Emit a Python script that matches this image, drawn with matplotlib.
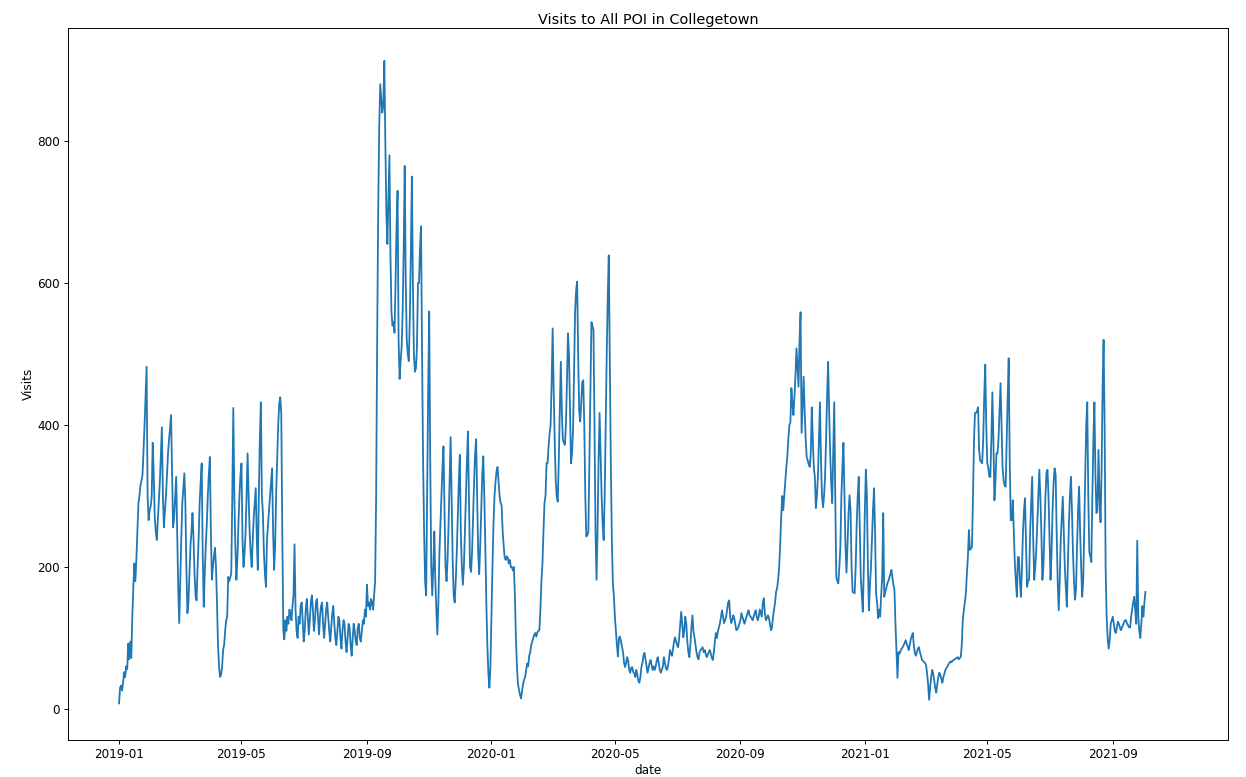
import pandas as pd
import matplotlib
matplotlib.use("Agg")
import matplotlib.pyplot as plt
import matplotlib.dates as mdates

# daily visit counts, one row per week starting 2019-01-01
visits = [
    8, 30, 33, 26, 38, 52, 45,
    60, 56, 92, 70, 95, 72, 130,
    172, 205, 180, 212, 250, 290, 300,
    315, 322, 330, 365, 400, 440, 482,
    300, 266, 280, 285, 300, 375, 330,
    270, 250, 238, 265, 294, 320, 360,
    397, 300, 256, 280, 300, 330, 360,
    380, 395, 414, 330, 256, 270, 300,
    327, 250, 170, 121, 180, 240, 290,
    310, 332, 290, 200, 135, 150, 190,
    230, 250, 276, 240, 190, 160, 153,
    200, 240, 290, 320, 346, 220, 144,
    190, 230, 260, 300, 330, 355, 250,
    182, 200, 215, 227, 200, 150, 90,
    60, 45, 48, 60, 83, 90, 110,
    125, 130, 186, 180, 185, 191, 300,
    424, 300, 230, 182, 210, 260, 300,
    330, 346, 240, 200, 220, 248, 300,
    360, 300, 250, 220, 200, 234, 270,
    290, 311, 240, 196, 300, 380, 432,
    300, 276, 220, 190, 172, 238, 260,
    280, 300, 320, 339, 250, 196, 230,
    304, 350, 400, 430, 439, 417, 250,
    # summer 2019
    111, 98, 125, 110, 130, 120, 140,
    135, 125, 145, 160, 232, 140, 110,
    100, 130, 120, 145, 150, 125, 95,
    110, 140, 155, 130, 105, 125, 150,
    160, 140, 110, 125, 150, 155, 130,
    105, 130, 145, 150, 120, 100, 120,
    140, 150, 130, 110, 95, 115, 135,
    145, 120, 100, 90, 110, 130, 125,
    100, 85, 110, 125, 120, 95, 80,
    100, 120, 115, 90, 75, 100, 120,
    110, 95, 90, 115, 120, 100, 95,
    110, 125, 120, 140, 130, 175, 145,
    150, 140, 155, 150, 140, 160, 180,
    # fall 2019
    300, 520, 700, 820, 880, 860, 840,
    850, 913, 800, 700, 655, 720, 780,
    640, 560, 540, 545, 530, 600, 680,
    730, 520, 465, 490, 510, 560, 650,
    765, 600, 520, 500, 490, 550, 640,
    750, 600, 500, 475, 480, 510, 600,
    600, 650, 680, 500, 350, 250, 180,
    160, 300, 450, 560, 350, 200, 160,
    200, 250, 180, 140, 105, 150, 220,
    260, 300, 340, 370, 280, 200, 180,
    210, 260, 320, 383, 300, 210, 160,
    150, 180, 220, 270, 320, 358, 250,
    200, 175, 200, 250, 300, 350, 391,
    300, 200, 193, 220, 270, 320, 360,
    380, 300, 220, 190, 230, 280, 330,
    356, 300, 230, 150, 90, 50, 30,
    60, 130, 200, 260, 300, 320, 335,
    341, 320, 300, 290, 287, 250, 230,
    213, 210, 215, 213, 205, 210, 200,
    200, 195, 200, 160, 100, 60, 35,
    27, 20, 15, 25, 35, 41, 45,
    # spring 2020
    55, 64, 60, 75, 80, 90, 95,
    100, 105, 107, 102, 108, 110, 111,
    140, 180, 205, 250, 290, 300, 346,
    346, 370, 388, 400, 460, 536, 450,
    380, 322, 300, 292, 350, 420, 489,
    420, 379, 375, 372, 400, 460, 529,
    500, 420, 346, 360, 393, 480, 560,
    590, 602, 500, 420, 405, 430, 460,
    463, 400, 300, 243, 245, 250, 350,
    460, 545, 540, 534, 400, 250, 182,
    250, 350, 417, 360, 300, 260, 238,
    300, 400, 500, 580, 639, 500, 350,
    240, 177, 160, 130, 110, 90, 74,
    # summer 2020
    100, 102, 95, 87, 80, 65, 59,
    65, 73, 68, 55, 51, 58, 59,
    52, 50, 45, 55, 48, 40, 37,
    45, 59, 65, 75, 79, 70, 60,
    51, 58, 65, 69, 62, 55, 60,
    55, 60, 68, 73, 65, 55, 51,
    55, 60, 73, 65, 58, 55, 60,
    70, 83, 78, 75, 85, 95, 101,
    95, 90, 87, 100, 118, 137, 120,
    101, 110, 130, 120, 95, 80, 73,
    90, 115, 132, 110, 101, 90, 80,
    73, 70, 80, 83, 85, 87, 80,
    83, 78, 73, 76, 80, 83, 78,
    72, 69, 80, 95, 107, 100, 110,
    115, 121, 130, 139, 130, 121, 125,
    130, 140, 150, 153, 130, 121, 125,
    132, 128, 120, 111, 112, 115, 120,
    125, 135, 130, 125, 120, 125, 130,
    135, 139, 132, 130, 128, 125, 130,
    135, 139, 130, 125, 130, 140, 135,
    130, 150, 156, 135, 125, 128, 132,
    128, 120, 111, 115, 130, 140, 150,
    165, 170, 182, 200, 230, 270, 300,
    # fall 2020
    280, 300, 322, 340, 355, 380, 400,
    403, 452, 430, 414, 440, 470, 508,
    480, 454, 520, 559, 389, 430, 468,
    420, 380, 355, 350, 345, 341, 360,
    425, 380, 340, 327, 283, 300, 327,
    380, 432, 350, 300, 284, 300, 327,
    380, 440, 489, 420, 360, 320, 290,
    360, 432, 300, 186, 180, 177, 200,
    228, 300, 340, 375, 300, 230, 192,
    230, 276, 301, 280, 200, 165, 164,
    163, 200, 260, 300, 327, 260, 186,
    160, 137, 200, 280, 337, 300, 200,
    139, 175, 200, 240, 280, 311, 250,
    163, 150, 128, 140, 130, 160, 186,
    276, 158, 165, 170, 177, 180, 185,
    190, 196, 185, 175, 168, 120, 83,
    # winter 2020-21
    44, 80, 78, 82, 85, 87, 90,
    93, 97, 92, 88, 83, 90, 98,
    103, 107, 90, 79, 75, 80, 85,
    87, 80, 75, 69, 68, 66, 65,
    62, 50, 35, 13, 30, 45, 55,
    50, 40, 30, 23, 35, 45, 51,
    48, 42, 37, 45, 50, 55, 58,
    60, 63, 65, 67, 66, 68, 69,
    70, 71, 72, 73, 70, 72, 73,
    # spring 2021
    90, 125, 139, 150, 163, 190, 214,
    252, 224, 226, 228, 300, 380, 417,
    417, 420, 425, 365, 350, 348, 346,
    380, 440, 485, 400, 346, 340, 327,
    327, 380, 446, 380, 294, 320, 360,
    360, 380, 420, 459, 400, 340, 322,
    315, 313, 380, 440, 494, 350, 266,
    266, 294, 250, 206, 180, 158, 214,
    214, 180, 158, 200, 250, 280, 297,
    230, 172, 180, 182, 250, 290, 327,
    240, 182, 200, 224, 260, 300, 337,
    300, 250, 182, 200, 250, 300, 332,
    337, 300, 240, 182, 220, 280, 320,
    339, 330, 250, 180, 139, 180, 240,
    270, 299, 250, 200, 170, 144, 200,
    260, 300, 327, 280, 220, 180, 154,
    170, 230, 280, 313, 250, 200, 158,
    180, 250, 330, 400, 432, 300, 221,
    215, 207, 300, 380, 432, 330, 276,
    280, 365, 300, 263, 330, 450, 520,
    # summer 2021
    400, 200, 130, 100, 85, 97, 120,
    125, 130, 120, 110, 107, 115, 123,
    120, 115, 111, 115, 118, 122, 125,
    125, 120, 118, 115, 115, 130, 140,
    150, 158, 140, 120, 237, 130, 110,
    100, 120, 145, 130, 150, 165,
]

dates = pd.date_range("2019-01-01", periods=len(visits), freq="D")
df = pd.DataFrame({"date": dates, "Visits": visits}).set_index("date")

dpi = 86.4
fig = plt.figure(figsize=(1246 / dpi, 777 / dpi), dpi=dpi)
ax = fig.add_axes([0.0546, 0.0476, 0.931, 0.9163])
ax.plot(df.index, df["Visits"], color="#1f77b4")

ax.set_xlim(pd.Timestamp("2018-11-12"), pd.Timestamp("2021-12-23"))
ax.set_ylim(-43.7, 959.2)
ax.set_yticks([0, 200, 400, 600, 800])
ax.xaxis.set_major_locator(mdates.MonthLocator(bymonth=[1, 5, 9]))
ax.xaxis.set_major_formatter(mdates.DateFormatter("%Y-%m"))

ax.set_xlabel("date", labelpad=2)
ax.set_ylabel("Visits", labelpad=2)
ax.set_title("Visits to All POI in Collegetown", pad=3)

fig.savefig("out.png", dpi=dpi)
